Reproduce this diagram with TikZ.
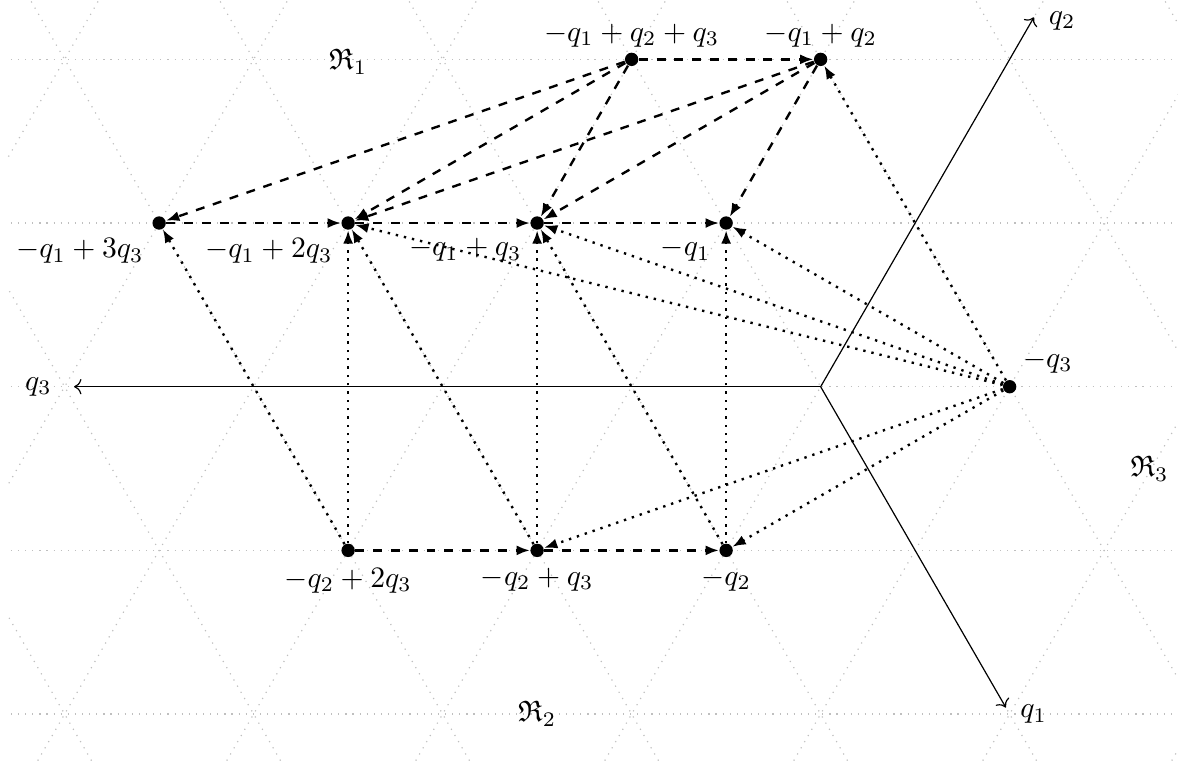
\documentclass[tikz,border=0pt]{standalone}
\usepackage{amsmath}
\usepackage{amssymb}
\usetikzlibrary{arrows.meta,positioning}

\begin{document}
\begin{tikzpicture}[x=2.24cm,y=2.24cm,
    dot/.style={circle,fill=black,inner sep=0pt,minimum size=4.5pt},
    dasharr/.style={thick,dashed,-{Latex[length=4.5pt,width=3.4pt]}},
    dotarr/.style={thick,dotted,-{Latex[length=4.5pt,width=3.4pt]}},
    gridline/.style={gray!50,dotted},
    axis/.style={->}]
    \useasboundingbox (-4.342,-2.023) rectangle (1.949,2.046);

    % Triangular lattice
    \begin{scope}
        \clip (-4.30,-1.99) rectangle (1.89,2.06);
        \foreach \k in {-2,...,2}
            \draw[gridline] (-5,\k*0.866) -- (2.5,\k*0.866);
        \foreach \a in {-7,...,5} {
            \draw[gridline] (\a-1.5,-2.598) -- (\a+1.5,2.598);
            \draw[gridline] (\a+1.5,-2.598) -- (\a-1.5,2.598);
        }
    \end{scope}

    % Axes
    \coordinate (O) at (0,0);
    \coordinate (q1end) at (-60:1.96);
    \coordinate (q2end) at (60:2.257);
    \coordinate (q3end) at (-3.95,0);
    \draw[axis] (O) -- (q1end) node[right,xshift=1.4pt,yshift=-2.3pt] (q1lab) {$q_1$};
    \draw[axis] (O) -- (q2end) node[right,inner sep=0pt,xshift=4.8pt,yshift=-1.2pt] (q2lab) {$q_2$};
    \draw[axis] (O) -- (q3end) node[left=4pt] (q3lab) {$q_3$};

    % Regions
    \node (R1) at (-2.5,1.72) {$\mathfrak{R}_1$};
    \node (R2) at (-1.5,-1.73) {$\mathfrak{R}_2$};
    \node (R3) at (1.74,-0.435) {$\mathfrak{R}_3$};

    % Weights
    \node[dot,label={[label distance=-1.8pt]above:$-q_1+q_2+q_3$}] (top1) at (-1,1.732) {};
    \node[dot,label={[label distance=-1.8pt]above:$-q_1+q_2$}] (top0) at (0,1.732) {};
    \node[dot,label=below left:$-q_1+3q_3$] (mid3) at (-3.5,0.866) {};
    \node[dot,label=below left:$-q_1+2q_3$] (mid2) at (-2.5,0.866) {};
    \node[dot,label=below left:$-q_1+q_3$] (mid1) at (-1.5,0.866) {};
    \node[dot,label=below left:$-q_1$] (mid0) at (-0.5,0.866) {};
    \node[dot,label={[label distance=-1pt]above right:$-q_3$}] (mq3) at (1,0) {};
    \node[dot,label=below:$-q_2+2q_3$] (bot2) at (-2.5,-0.866) {};
    \node[dot,label=below:$-q_2+q_3$] (bot1) at (-1.5,-0.866) {};
    \node[dot,label=below:$-q_2$] (bot0) at (-0.5,-0.866) {};

    % Dashed arrows
    \draw[dasharr] (top1) -- (top0);
    \foreach \t in {mid3,mid2,mid1}
        \draw[dasharr] (top1) -- (\t);
    \foreach \t in {mid2,mid1,mid0}
        \draw[dasharr] (top0) -- (\t);
    \draw[dasharr] (mid3) -- (mid2);
    \draw[dasharr] (mid2) -- (mid1);
    \draw[dasharr] (mid1) -- (mid0);
    \draw[dasharr] (bot2) -- (bot1);
    \draw[dasharr] (bot1) -- (bot0);

    % Dotted arrows
    \draw[dotarr] (bot2) -- (mid3);
    \draw[dotarr] (bot2) -- (mid2);
    \draw[dotarr] (bot1) -- (mid2);
    \draw[dotarr] (bot1) -- (mid1);
    \draw[dotarr] (bot0) -- (mid1);
    \draw[dotarr] (bot0) -- (mid0);
    \foreach \t in {top0,mid2,mid1,mid0,bot1,bot0}
        \draw[dotarr] (mq3) -- (\t);
\end{tikzpicture}
\end{document}
